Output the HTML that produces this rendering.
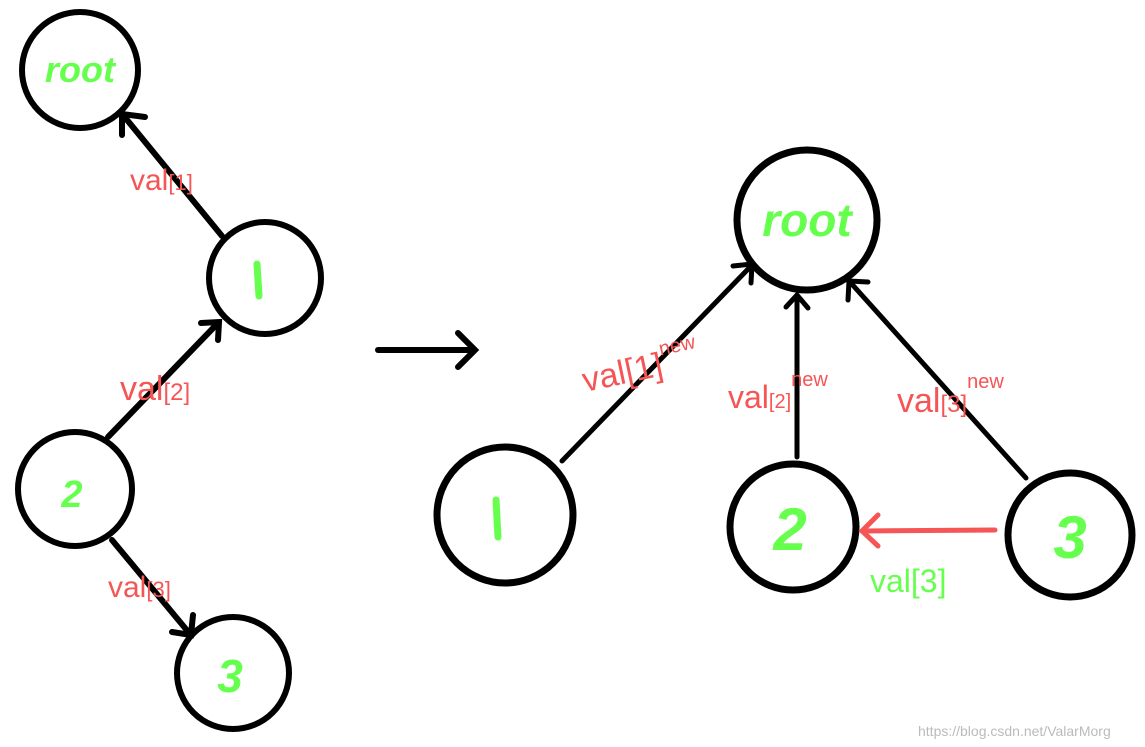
<!DOCTYPE html>
<html><head><style>body{margin:0;background:#fff}svg{display:block}
text{font-family:"Liberation Sans",sans-serif}</style></head><body>
<svg width="1145" height="747" viewBox="0 0 1145 747" xmlns="http://www.w3.org/2000/svg">
<g fill="none" stroke="#000" stroke-width="6" stroke-linecap="round">
<circle cx="80" cy="70" r="58"/>
<circle cx="265" cy="278" r="56"/>
<circle cx="75" cy="489" r="57"/>
<circle cx="233" cy="673" r="56"/>
<line x1="222" y1="236" x2="123" y2="115"/><polyline points="122,135 122,114 145,117"/>
<line x1="108" y1="437" x2="218" y2="323"/><polyline points="201,323 219,322 218,340"/>
<line x1="112" y1="540" x2="190" y2="634"/><polyline points="172,632 191,635 193,615"/>
<line x1="378" y1="350" x2="474" y2="350"/><polyline points="458,333 475,350 458,367"/>
</g>
<g fill="none" stroke="#000" stroke-width="7" stroke-linecap="round">
<circle cx="807" cy="220" r="70"/>
<circle cx="505" cy="515" r="68"/>
<circle cx="793" cy="527" r="63"/>
<circle cx="1070" cy="535" r="62"/>
</g>
<g fill="none" stroke="#000" stroke-width="5" stroke-linecap="round">
<line x1="562" y1="461" x2="752" y2="265"/><polyline points="733,266 752,264 751,283"/>
<line x1="797" y1="457" x2="797" y2="297"/><polyline points="786,307 797,295 808,308"/>
<line x1="1026" y1="478" x2="850" y2="282"/><polyline points="848,300 849,281 868,282"/>
</g>
<g fill="none" stroke="#f55555" stroke-width="5" stroke-linecap="round">
<line x1="995" y1="530" x2="864" y2="531"/><polyline points="878,515 862,531 878,546"/>
</g>
<g stroke="#66ff4d" stroke-width="7" stroke-linecap="round">
<line x1="257" y1="264" x2="259" y2="296"/>
<line x1="496" y1="500" x2="498" y2="537"/>
</g>
<g fill="#66ff4d" font-weight="bold" font-style="italic" text-anchor="middle">
<text x="80" y="82" font-size="36">root</text>
<text x="807" y="236" font-size="46">root</text>
<text x="72" y="507" font-size="38">2</text>
<text x="230" y="692" font-size="46">3</text>
<text x="790" y="550" font-size="60">2</text>
<text x="1070" y="558" font-size="60">3</text>
</g>
<g fill="#f55555" font-size="30">
<text x="130" y="190">val<tspan font-size="22">[1]</tspan></text>
<text x="120" y="400" font-size="34">val<tspan font-size="24">[2]</tspan></text>
<text x="108" y="597">val<tspan font-size="22">[3]</tspan></text>
<text x="585" y="392" font-size="34" transform="rotate(-12 585 392)">val[1]<tspan font-size="20" dy="-20">new</tspan></text>
<text x="728" y="408" font-size="32">val<tspan font-size="20">[2]</tspan><tspan font-size="20" dy="-22">new</tspan></text>
<text x="897" y="412" font-size="34">val<tspan font-size="24">[3]</tspan><tspan font-size="20" dy="-24">new</tspan></text>
</g>
<text x="870" y="592" fill="#66ff4d" font-size="32">val[3]</text>
<text x="918" y="736" fill="#bbb" font-size="14">https://blog.csdn.net/ValarMorg</text>
</svg>
</body></html>
